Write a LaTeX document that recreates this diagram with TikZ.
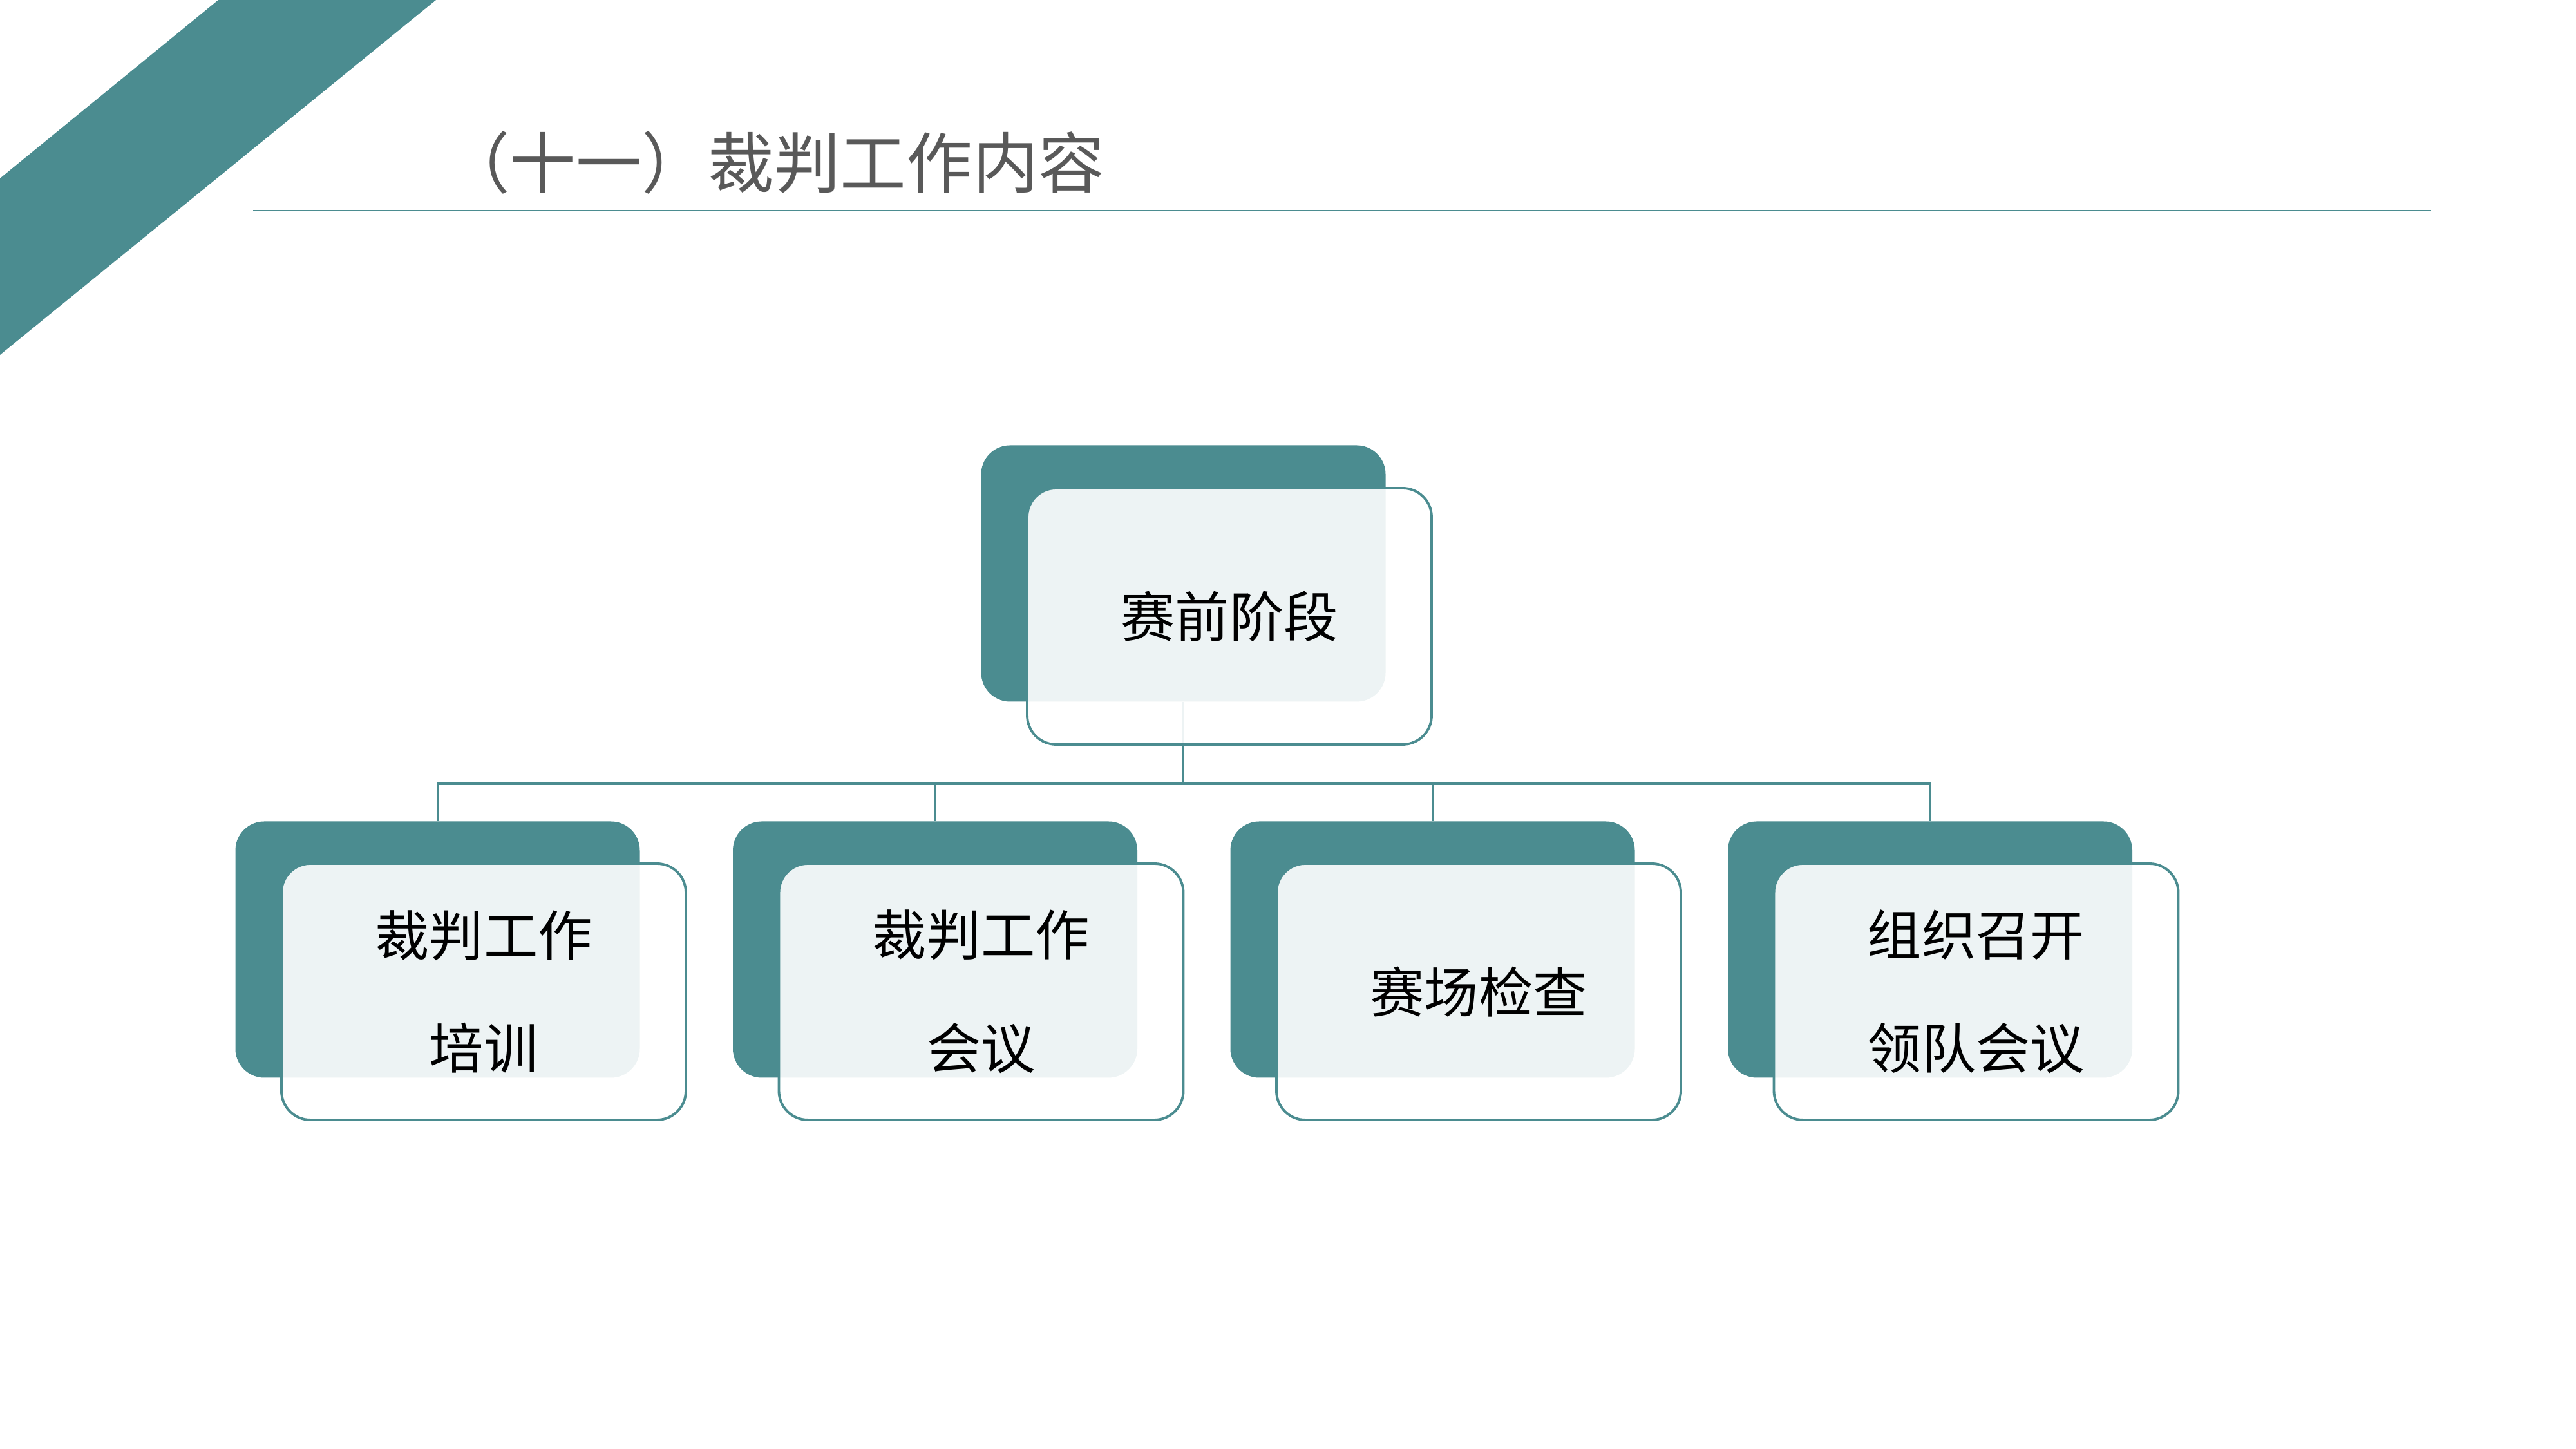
\documentclass[tikz,border=0pt]{standalone}
\usepackage{fontspec}
\setmainfont{Noto Sans CJK SC}
\usetikzlibrary{positioning,calc,backgrounds}
\definecolor{sportteal}{HTML}{4B8C90}
\definecolor{titlegray}{HTML}{595959}
\tikzset{
  % kort
  back/.style={rectangle,rounded corners=0.45cm,fill=sportteal,inner sep=0pt,
               minimum width=6.28cm,minimum height=3.98cm},
  front/.style={rectangle,rounded corners=0.45cm,draw=sportteal,line width=1.1pt,
                fill=white,fill opacity=0.9,text opacity=1,text=black,inner sep=0pt,
                minimum width=6.28cm,minimum height=3.98cm,align=center,
                font=\fontsize{24}{50}\selectfont},
  link/.style={draw=sportteal,line width=1pt},
  % rubrik
  heading/.style={text=titlegray,inner sep=0pt,font=\fontsize{29.2}{34}\selectfont},
  band/.style={fill=sportteal},
  rule/.style={draw=sportteal,line width=0.8pt},
}
\begin{document}
\begin{tikzpicture}
  \useasboundingbox (0,0) rectangle (40,22.5);
  \fill[band] (3.39,22.5) -- (6.77,22.5) -- (0,16.99) -- (0,19.73) -- cycle;
  \node[heading,anchor=east] (title) at (17.16,19.97) {（十一）裁判工作内容};
  \draw[rule] (3.93,19.23) -- (37.75,19.23);
  \node[front] (p0) at (19.09,12.93) {赛前阶段};
  \node[front] (c1) at (7.51,7.10) {裁判工作\\培训};
  \node[front] (c2) at (15.235,7.10) {裁判工作\\会议};
  \node[front] (c3) at (22.96,7.10) {赛场检查};
  \node[front] (c4) at (30.685,7.10) {组织召开\\领队会议};
  \begin{scope}[on background layer]
  \node[back] (p0b) at (18.375,13.595) {};
  \node[back] (c1b) at (6.795,7.755) {};
  \node[back] (c2b) at (14.52,7.755) {};
  \node[back] (c3b) at (22.245,7.755) {};
  \node[back] (c4b) at (29.97,7.755) {};
  \coordinate (bus) at (18.375,10.33);
  \draw[link] (p0b.south) -- (bus);
  \foreach \c in {c1b,c2b,c3b,c4b}
    \draw[link] (bus) -| (\c.north);
  \end{scope}
\end{tikzpicture}
\end{document}
